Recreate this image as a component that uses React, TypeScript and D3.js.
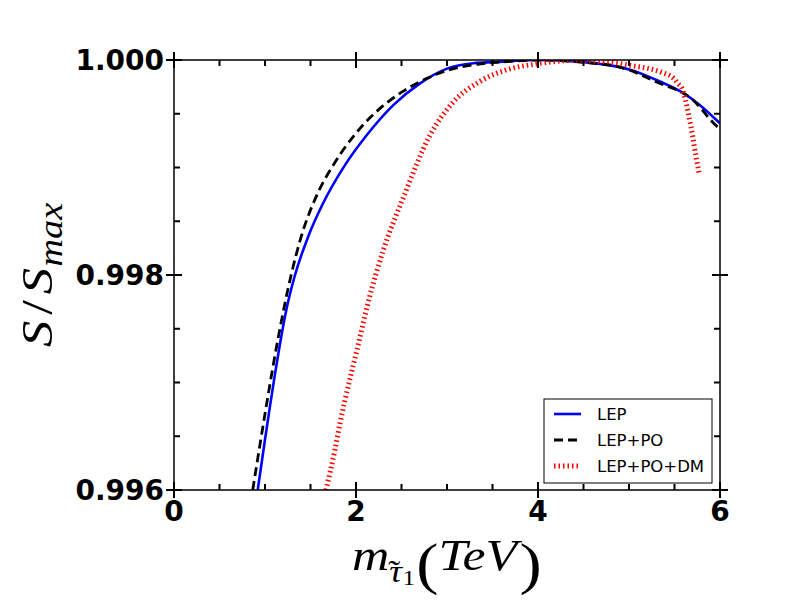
import React from 'react';
import * as d3 from 'd3';

// LEP (blue, solid)
const lepX = [0.92, 1.0, 1.055, 1.11, 1.165, 1.238, 1.33, 1.476, 1.634, 1.877, 2.117, 2.41, 2.7, 3.0, 3.29, 3.51, 4.0, 4.5, 4.79, 5.01, 5.34, 5.56, 5.78, 6.0];
const lepY = [0.996, 0.99647, 0.99678, 0.99708, 0.99736, 0.99769, 0.998, 0.99836, 0.99866, 0.99902, 0.9993, 0.99958, 0.99978, 0.99992, 0.99997, 0.99998, 1.0, 0.99998, 0.99995, 0.99991, 0.9998, 0.99971, 0.99958, 0.99941];

// LEP+PO (black, dashed)
const lepPoX = [0.865, 0.952, 1.018, 1.08, 1.146, 1.22, 1.293, 1.385, 1.59, 1.756, 2.04, 2.264, 2.52, 2.78, 3.03, 3.33, 3.58, 4.0, 4.48, 4.92, 5.29, 5.7, 5.97, 6.0];
const lepPoY = [0.996, 0.99646, 0.9968, 0.99711, 0.99742, 0.99774, 0.99802, 0.99832, 0.99878, 0.99903, 0.99936, 0.99955, 0.99971, 0.99983, 0.99991, 0.99996, 0.99998, 1.0, 0.99998, 0.99993, 0.9998, 0.99963, 0.99938, 0.99936];

// LEP+PO+DM (red, dotted)
const lepPoDmX = [1.67, 1.77, 1.824, 1.88, 2.01, 2.135, 2.3, 2.52, 2.813, 3.07, 3.36, 3.66, 3.95, 4.24, 4.4, 4.64, 4.79, 5.01, 5.34, 5.49, 5.54, 5.58, 5.62, 5.66, 5.7, 5.736, 5.77];
const lepPoDmY = [0.996, 0.99638, 0.99662, 0.99684, 0.9973, 0.99775, 0.99823, 0.99872, 0.9993, 0.99961, 0.9998, 0.99991, 0.99996, 0.99999, 1.0, 0.99999, 0.99998, 0.99995, 0.99989, 0.99983, 0.99978, 0.99974, 0.99963, 0.99947, 0.99929, 0.9991, 0.99895];

const xMajor = [0, 2, 4, 6];
const xMajorLabels = ['0', '2', '4', '6'];
const xMinor = [0.5, 1, 1.5, 2.5, 3, 3.5, 4.5, 5, 5.5];
const yMajor = [0.996, 0.998, 1.0];
const yMajorLabels = ['0.996', '0.998', '1.000'];
const yMinor = [0.9965, 0.997, 0.9975, 0.9985, 0.999, 0.9995];

const seriesNames = ['LEP', 'LEP+PO', 'LEP+PO+DM'];

const W = 800;
const H = 600;
const left = 174;
const right = 720;
const top = 60;
const bottom = 490;

const styles = [
  { stroke: '#0000ff', width: 2.6, dash: undefined as string | undefined },
  { stroke: '#000000', width: 2.8, dash: '9 5' },
  { stroke: '#ff0000', width: 5, dash: '1.5 3' },
];

const serif = 'Liberation Serif';

export default function App() {
  const x = d3.scaleLinear().domain([0, 6]).range([left, right]);
  const y = d3.scaleLinear().domain([0.996, 1.0]).range([bottom, top]);

  const line = d3
    .line<[number, number]>()
    .x((d) => x(d[0]))
    .y((d) => y(d[1]))
    .curve(d3.curveMonotoneX);

  const series: [number, number][][] = [
    lepX.map((v, i) => [v, lepY[i]]),
    lepPoX.map((v, i) => [v, lepPoY[i]]),
    lepPoDmX.map((v, i) => [v, lepPoDmY[i]]),
  ];

  const tickFont = { fontFamily: 'DejaVu Sans', fontWeight: 'bold' as const, fontSize: 28 };
  const majorLen = 8;
  const minorLen = 6;

  const legX = 544;
  const legY = 399;
  const rowY = [414, 440, 466];

  return (
    <svg width={W} height={H} style={{ position: 'fixed', left: 0, top: 0, background: '#fff' }}>
      <defs>
        <clipPath id="plot-clip">
          <rect x={left} y={top} width={right - left} height={bottom - top} />
        </clipPath>
      </defs>
      <rect width={W} height={H} fill="#fff" />

      <g clipPath="url(#plot-clip)">
        {series.map((s, i) => (
          <path
            key={i}
            d={line(s) || ''}
            fill="none"
            stroke={styles[i].stroke}
            strokeWidth={styles[i].width}
            strokeDasharray={styles[i].dash}
          />
        ))}
      </g>

      {/* frame */}
      <rect x={left} y={top} width={right - left} height={bottom - top} fill="none" stroke="#000" strokeWidth={1.5} />

      {/* x ticks, bottom and top */}
      {xMajor.map((v) => (
        <g key={'xM' + v} stroke="#000" strokeWidth={2}>
          <line x1={x(v)} x2={x(v)} y1={bottom - majorLen} y2={bottom + majorLen} />
          <line x1={x(v)} x2={x(v)} y1={top - majorLen} y2={top + majorLen} />
        </g>
      ))}
      {xMinor.map((v) => (
        <g key={'xm' + v} stroke="#000" strokeWidth={2}>
          <line x1={x(v)} x2={x(v)} y1={bottom - minorLen} y2={bottom} />
          <line x1={x(v)} x2={x(v)} y1={top} y2={top + minorLen} />
        </g>
      ))}
      {/* y ticks, left and right */}
      {yMajor.map((v) => (
        <g key={'yM' + v} stroke="#000" strokeWidth={2}>
          <line x1={left - majorLen} x2={left + majorLen} y1={y(v)} y2={y(v)} />
          <line x1={right - majorLen} x2={right + majorLen} y1={y(v)} y2={y(v)} />
        </g>
      ))}
      {yMinor.map((v) => (
        <g key={'ym' + v} stroke="#000" strokeWidth={2}>
          <line x1={left} x2={left + minorLen} y1={y(v)} y2={y(v)} />
          <line x1={right - minorLen} x2={right} y1={y(v)} y2={y(v)} />
        </g>
      ))}

      {/* tick labels */}
      {xMajor.map((v, i) => (
        <text key={'xl' + v} x={x(v)} y={521} textAnchor="middle" {...tickFont}>
          {xMajorLabels[i]}
        </text>
      ))}
      {yMajor.map((v, i) => (
        <text key={'yl' + v} x={164} y={y(v)} dy="0.36em" textAnchor="end" {...tickFont}>
          {yMajorLabels[i]}
        </text>
      ))}

      {/* x label: m_{tilde tau_1}(TeV) */}
      <text transform="translate(352,570) scale(1.15,1)" x={0} y={0} fontFamily={serif} fontSize={45} fill="#000">
        <tspan fontStyle="italic">m</tspan>
        <tspan fontStyle="italic" fontSize={31} dy={12}>τ</tspan>
        <tspan fontSize={31} dx={-12}>˜</tspan>
        <tspan fontSize={22} dx={2} dy={3}>1</tspan>
        <tspan fontSize={58} dx={1} dy={-2}>(</tspan>
        <tspan fontStyle="italic" dy={-13}>TeV</tspan>
        <tspan fontSize={58} dx={2} dy={13}>)</tspan>
      </text>

      {/* y label: S/S_max */}
      <text transform="translate(52,347) rotate(-90) scale(1.17,1)" x={0} y={0} fontFamily={serif} fontSize={45} fill="#000">
        <tspan fontStyle="italic">S</tspan>
        <tspan dx={5}>/</tspan>
        <tspan fontStyle="italic" dx={5}>S</tspan>
        <tspan fontStyle="italic" fontSize={33} dx={1} dy={10}>max</tspan>
      </text>

      {/* legend */}
      <rect x={legX} y={legY} width={168} height={84} fill="#fff" stroke="#000" strokeWidth={1} />
      {seriesNames.map((name, i) => (
        <g key={name}>
          <line
            x1={554}
            x2={581}
            y1={rowY[i]}
            y2={rowY[i]}
            stroke={styles[i].stroke}
            strokeWidth={styles[i].width}
            strokeDasharray={styles[i].dash}
          />
          <text x={597} y={rowY[i]} dy="0.36em" fontFamily="DejaVu Sans" fontSize={16.5}>
            {name}
          </text>
        </g>
      ))}
    </svg>
  );
}
